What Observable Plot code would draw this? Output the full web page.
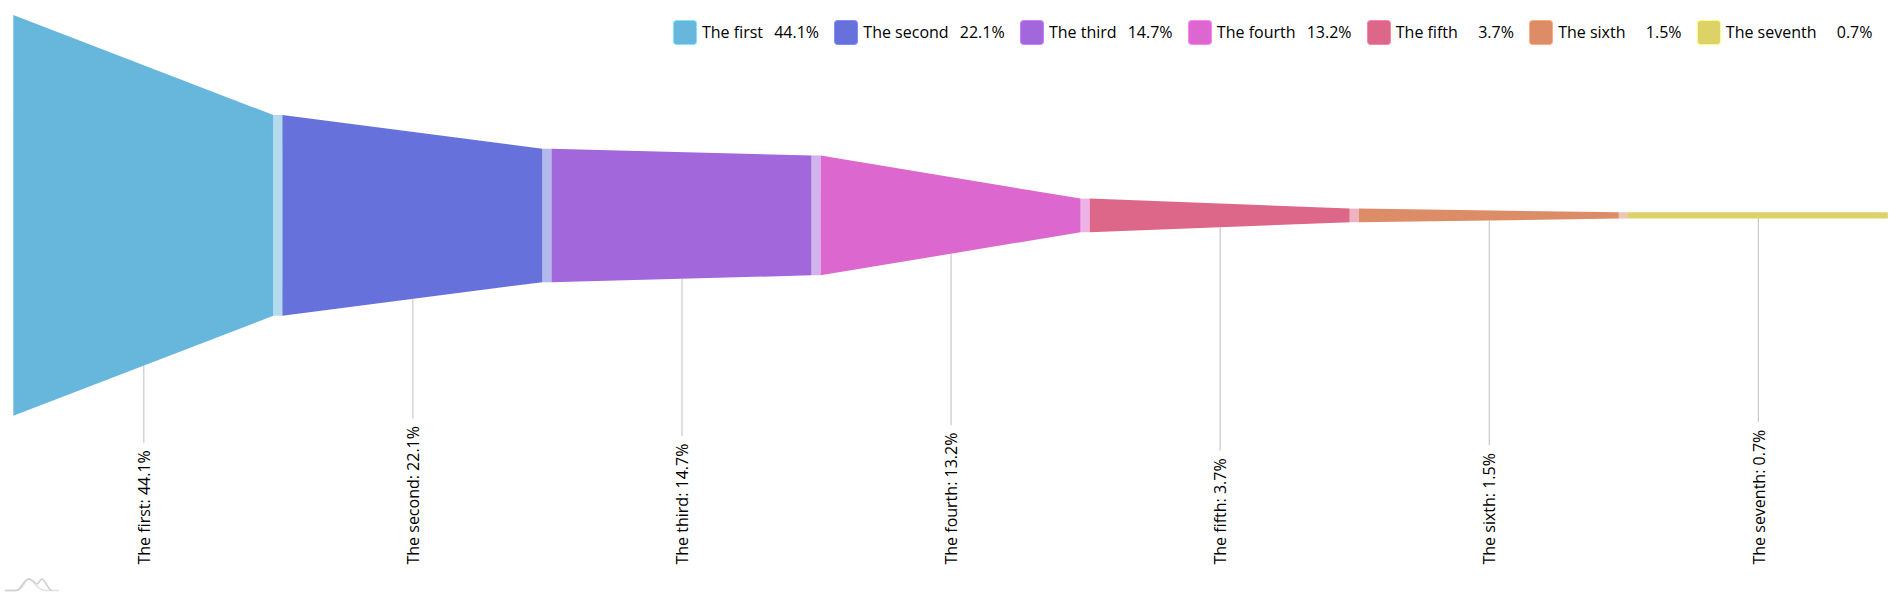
<!DOCTYPE html>
<html>
<head>
<meta charset="utf-8">
<script src="https://cdn.jsdelivr.net/npm/d3@7"></script>
<script src="https://cdn.jsdelivr.net/npm/@observablehq/plot@0.6"></script>
<style>
html,body{margin:0;padding:0;background:#fff}
#wrap{position:relative;width:1896px;height:604px;overflow:hidden;font-family:"Open Sans",sans-serif;color:#000}
#legend{position:absolute;top:20px;right:23.5px;display:flex;gap:15.3px;font-size:16px;line-height:25px;white-space:nowrap}
.item{display:flex;align-items:center}
.sw{width:24px;height:25px;border-radius:3.5px;margin-right:5px;box-sizing:border-box;background-clip:padding-box;position:relative}
.val{min-width:46px;margin-left:10px;text-align:right}
#logo{position:absolute;left:0;top:570px}
svg{display:block}
</style>
</head>
<body>
<div id="wrap">
<div id="chart"></div>
<div id="legend"></div>
<svg id="logo" width="66" height="26" viewBox="0 0 66 26">
<path d="M5 20.5H17C23 20.5 25 9 29 9C33 9 37 20.5 45 20.5H59" fill="none" stroke="#e2e2e2" stroke-width="1.5"/>
<path d="M5 20.5H16C21 20.5 24 9 28.5 9C33 9 35 14 37 14C39 14 40 9 42 9C45 9 48 20.5 52 20.5" fill="none" stroke="#cfcfcf" stroke-width="1.5"/>
</svg>
</div>
<script>
const names = ["The first","The second","The third","The fourth","The fifth","The sixth","The seventh"];
const values = [44.1,22.1,14.7,13.2,3.7,1.5,0.7];
const colors = ["#67b7dc","#6771dc","#a367dc","#dc67ce","#dc6788","#dc8c67","#dcd267"];
const sliceShare = 0.966;
const labelFont = "16px 'Open Sans'";

const yDomain = [-22.05, 22.05], yRange = [415.7, 15.1];
const yScale = d3.scaleLinear().domain(yDomain).range(yRange);

const slices = [], links = [], labels = [];
const ctx = document.createElement("canvas").getContext("2d");
ctx.font = labelFont;
names.forEach((name,i)=>{
  const a = values[i], b = i < values.length-1 ? values[i+1] : values[i];
  slices.push({name,u:i,lo:-a/2,hi:a/2},{name,u:i+sliceShare,lo:-b/2,hi:b/2});
  if(i < values.length-1){
    links.push({name,u:i+sliceShare,lo:-b/2,hi:b/2},{name,u:i+1,lo:-b/2,hi:b/2});
  }
  const text = `${name}: ${values[i].toFixed(1)}%`;
  const labelTop = 564 - ctx.measureText(text).width - 7;
  labels.push({name,text,u:i+sliceShare/2,from:-(a+b)/4,to:yScale.invert(labelTop)});
});

const chart = Plot.plot({
  width:1896,height:604,
  marginTop:0,marginRight:0,marginBottom:40,marginLeft:0,
  x:{domain:[0,7],range:[13.3,1897],axis:null},
  y:{domain:yDomain,range:yRange,axis:null},
  color:{domain:names,range:colors},
  style:{background:"transparent"},
  marks:[
    Plot.ruleX(labels,{x:"u",y1:"from",y2:"to",stroke:"#cacaca",strokeWidth:1.2}),
    Plot.areaY(links,{x:"u",y1:"lo",y2:"hi",z:"name",fill:"name",fillOpacity:0.5}),
    Plot.areaY(slices,{x:"u",y1:"lo",y2:"hi",z:"name",fill:"name"}),
    Plot.text(labels,{x:"u",dx:1,frameAnchor:"bottom",text:"text",rotate:-90,textAnchor:"start",lineAnchor:"middle",fill:"#000",fontSize:16,fontFamily:"Open Sans"})
  ]
});
document.getElementById("chart").append(chart);

const legend = document.getElementById("legend");
names.forEach((name,i)=>{
  const item = document.createElement("div"); item.className="item";
  const sw = document.createElement("div"); sw.className="sw";
  sw.style.background = colors[i];
  sw.style.border = `1px solid ${d3.color(colors[i]).brighter(0.6).formatHex()}`;
  const lab = document.createElement("span"); lab.textContent = name;
  const val = document.createElement("span"); val.className="val"; val.textContent = values[i].toFixed(1)+"%";
  item.append(sw,lab,val);
  legend.append(item);
});
</script>
</body>
</html>
